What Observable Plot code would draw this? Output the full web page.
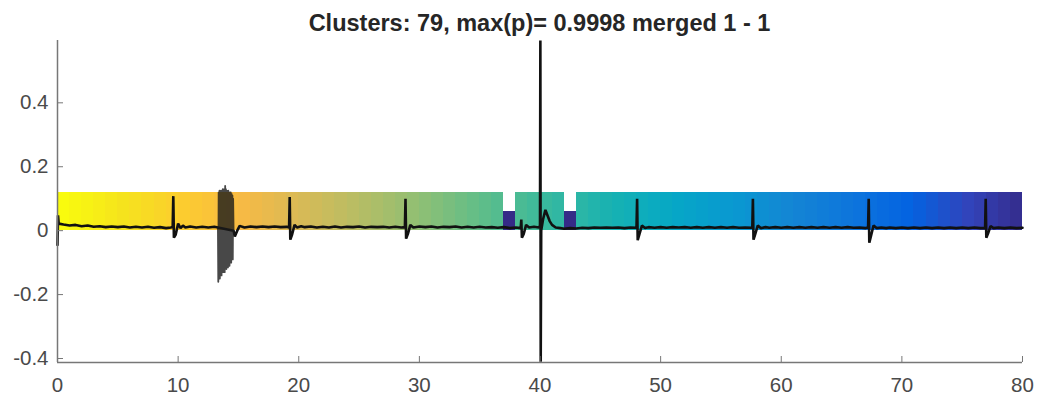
<!DOCTYPE html>
<html><head><meta charset="utf-8">
<script src="https://cdn.jsdelivr.net/npm/d3@7"></script>
<script src="https://cdn.jsdelivr.net/npm/@observablehq/plot@0.6"></script>
<style>
body{margin:0;background:#fff;}
#title{height:34px;box-sizing:border-box;padding-top:12px;margin-left:57px;width:965px;text-align:center;font:bold 23.5px "Liberation Sans",Arial,sans-serif;line-height:23px;color:#262626;white-space:nowrap;}
</style></head><body>
<div id="title">Clusters: 79, max(p)= 0.9998 merged 1 - 1</div>
<div id="chart"></div>
<script>
// ---- data ----
const xDomain = [0, 80];
const yDomain = [-0.4125, 0.595];
const xTicks = [0, 10, 20, 30, 40, 50, 60, 70, 80];
const yTicks = [-0.4, -0.2, 0, 0.2, 0.4];

// segment start times (s) and the cluster each segment belongs to
const segStart = [0,1,2,3,4,5,6,7,8,9,10,11,12,13,14,15,16,17,18,19,20,21,22,23,24,25,26,27,28,29,30,31,32,33,34,35,36,37,38,39,40,41,42,43,44,45,46,47,48,49,50,51,52,53,54,55,56,57,58,59,60,61,62,63,64,65,66,67,68,69,70,71,72,73,74,75,76,77,78,79];
const segCluster = [79,78,77,76,75,74,73,72,71,70,69,68,67,66,65,64,63,62,61,60,59,58,57,56,55,54,53,52,51,50,49,48,47,46,45,44,43,1,42,41,40,39,1,38,37,36,35,34,33,32,31,30,29,28,27,26,25,24,23,22,21,20,19,18,17,16,15,14,13,12,11,10,9,8,7,6,5,4,3,2];
const mergedClusters = [1];
const barLevel = 0.12;
const mergedLevel = 0.06;

// signal trace [time, value]
const signal = [[0.00,-0.045],[0.04,0.048],[0.10,0.022],[0.5,0.019],[1.0,0.016],[1.5,0.018],[2.0,0.014],[2.5,0.016],[3.0,0.012],[3.5,0.014],[4.0,0.011],[4.5,0.013],[5.0,0.011],[5.5,0.013],[6.0,0.010],[6.5,0.012],[7.0,0.010],[7.5,0.012],[8.0,0.009],[8.5,0.011],[9.0,0.008],[9.4,0.010],[9.55,0.012],[9.60,0.108],[9.65,-0.022],[9.80,-0.012],[10.00,0.022],[10.20,0.008],[10.40,0.016],[10.6,0.010],[11.0,0.013],[11.5,0.010],[12.0,0.012],[12.5,0.010],[13.0,0.012],[13.3,0.010],[14.6,0.000],[14.7,-0.018],[14.9,0.000],[15.1,0.015],[15.5,0.010],[16.0,0.013],[16.5,0.011],[17.0,0.013],[17.5,0.011],[18.0,0.013],[18.5,0.011],[19.0,0.012],[19.2,0.010],[19.25,0.105],[19.30,-0.028],[19.45,-0.012],[19.65,0.018],[19.85,0.010],[20.2,0.014],[20.5,0.011],[21.0,0.013],[21.5,0.010],[22.0,0.012],[22.5,0.010],[23.0,0.013],[23.5,0.010],[24.0,0.012],[24.5,0.011],[25.0,0.013],[25.5,0.010],[26.0,0.012],[26.5,0.011],[27.0,0.012],[27.5,0.010],[28.0,0.012],[28.5,0.010],[28.8,0.011],[28.85,0.100],[28.90,-0.025],[29.05,-0.010],[29.25,0.018],[29.5,0.010],[30.0,0.013],[30.5,0.011],[31.0,0.013],[31.5,0.010],[32.0,0.012],[32.5,0.011],[33.0,0.013],[33.5,0.010],[34.0,0.012],[34.5,0.010],[35.0,0.012],[35.5,0.010],[36.0,0.011],[36.5,0.009],[37.0,0.011],[37.5,0.008],[38.0,0.010],[38.4,0.008],[38.45,0.035],[38.50,-0.022],[38.65,-0.010],[38.85,0.018],[39.1,0.010],[39.5,0.012],[39.9,0.010],[40.00,0.015],[40.03,0.595],[40.06,-0.41],[40.10,0.000],[40.25,0.035],[40.45,0.065],[40.6,0.050],[40.8,0.030],[41.0,0.018],[41.3,0.010],[41.7,0.008],[42.0,0.006],[42.5,0.008],[43.0,0.007],[43.5,0.009],[44.0,0.008],[44.5,0.010],[45.0,0.009],[45.5,0.010],[46.0,0.009],[46.5,0.010],[47.0,0.008],[47.5,0.010],[48.0,0.009],[48.05,0.100],[48.10,-0.030],[48.25,-0.010],[48.45,0.016],[48.7,0.008],[49.0,0.011],[49.5,0.009],[50.0,0.011],[50.5,0.009],[51.0,0.011],[51.5,0.010],[52.0,0.011],[52.5,0.009],[53.0,0.011],[53.5,0.009],[54.0,0.011],[54.5,0.009],[55.0,0.011],[55.5,0.009],[56.0,0.011],[56.5,0.009],[57.0,0.010],[57.6,0.009],[57.65,0.100],[57.70,-0.028],[57.85,-0.010],[58.05,0.016],[58.3,0.008],[58.7,0.011],[59.0,0.009],[59.5,0.011],[60.0,0.009],[60.5,0.011],[61.0,0.009],[61.5,0.011],[62.0,0.009],[62.5,0.011],[63.0,0.009],[63.5,0.011],[64.0,0.009],[64.5,0.011],[65.0,0.009],[65.5,0.011],[66.0,0.009],[66.5,0.010],[67.0,0.008],[67.2,0.010],[67.25,0.100],[67.30,-0.038],[67.45,-0.015],[67.65,0.016],[67.9,0.008],[68.3,0.010],[68.7,0.008],[69.0,0.010],[69.5,0.008],[70.0,0.010],[70.5,0.008],[71.0,0.010],[71.5,0.008],[72.0,0.010],[72.5,0.008],[73.0,0.010],[73.5,0.008],[74.0,0.010],[74.5,0.008],[75.0,0.010],[75.5,0.008],[76.0,0.010],[76.5,0.008],[76.9,0.008],[76.95,0.100],[77.00,-0.022],[77.15,-0.008],[77.35,0.014],[77.6,0.008],[78.0,0.010],[78.5,0.008],[79.0,0.010],[79.5,0.008],[80.0,0.009]];

// dense burst (artifact) around 13.3–14.6 s [time, value]
const burst = [[13.30,0.01],[13.33,-0.16],[13.36,0.12],[13.40,-0.05],[13.43,0.125],[13.46,-0.15],[13.50,0.12],[13.53,-0.09],[13.56,0.125],[13.60,-0.14],[13.63,0.12],[13.66,-0.04],[13.70,0.13],[13.73,-0.13],[13.76,0.125],[13.80,-0.07],[13.83,0.13],[13.86,-0.13],[13.90,0.14],[13.93,-0.03],[13.96,0.13],[14.00,-0.12],[14.03,0.125],[14.06,-0.06],[14.10,0.12],[14.13,-0.115],[14.16,0.125],[14.20,-0.04],[14.23,0.12],[14.26,-0.11],[14.30,0.12],[14.33,-0.06],[14.36,0.12],[14.40,-0.10],[14.43,0.115],[14.46,-0.03],[14.50,0.11],[14.53,-0.09],[14.56,0.10],[14.60,-0.01]];

// parula colormap stops
const parulaStops = ["#352a87","#3243ba","#0363e1","#0d75dc","#1485d4","#0998d1","#06a7c6","#15b1b4","#38b99e","#65be86","#92bf73","#b7bd64","#d9ba56","#f8ba44","#fccd2e","#f5e41d","#f9fb0e"];

// ---- chart ----
const segments = segStart.map((s, i) => ({
  start: s,
  end: i + 1 < segStart.length ? segStart[i + 1] : xDomain[1],
  cluster: segCluster[i],
  top: mergedClusters.includes(segCluster[i]) ? mergedLevel : barLevel
}));
const parula = d3.piecewise(d3.interpolateRgb, parulaStops);

const chart = Plot.plot({
  width: 1042, height: 367,
  marginLeft: 57, marginRight: 20, marginTop: 6, marginBottom: 39,
  style: {fontFamily: '"Liberation Sans", Arial, sans-serif', fontSize: "20.5px", color: "#4a4a4a", background: "#fff", overflow: "visible"},
  x: {domain: xDomain},
  y: {domain: yDomain},
  color: {type: "linear", domain: [1, 79], interpolate: parula},
  marks: [
    Plot.rect(segments, {x1: "start", x2: "end", y1: 0, y2: "top", fill: "cluster", shapeRendering: "crispEdges"}),
    Plot.line(signal, {x: d => d[0], y: d => d[1], stroke: "#111", strokeWidth: 2.6, strokeLinejoin: "miter"}),
    Plot.line(burst, {x: d => d[0], y: d => d[1], stroke: "#1a1a1a", strokeWidth: 1.8, strokeOpacity: 0.8}),
    Plot.ruleX([xDomain[0]], {stroke: "#777", strokeWidth: 1.5}),
    Plot.ruleY([yDomain[0]], {stroke: "#777", strokeWidth: 1.5}),
    Plot.axisX(xTicks, {anchor: "bottom", tickSize: -6, tickPadding: 21, tickFormat: d => String(d), label: null, stroke: "#777"}),
    Plot.axisY(yTicks, {anchor: "left", tickSize: -6, tickPadding: 15, tickFormat: d => String(d), label: null, stroke: "#777"})
  ]
});
document.getElementById("chart").appendChild(chart);
</script></body></html>
